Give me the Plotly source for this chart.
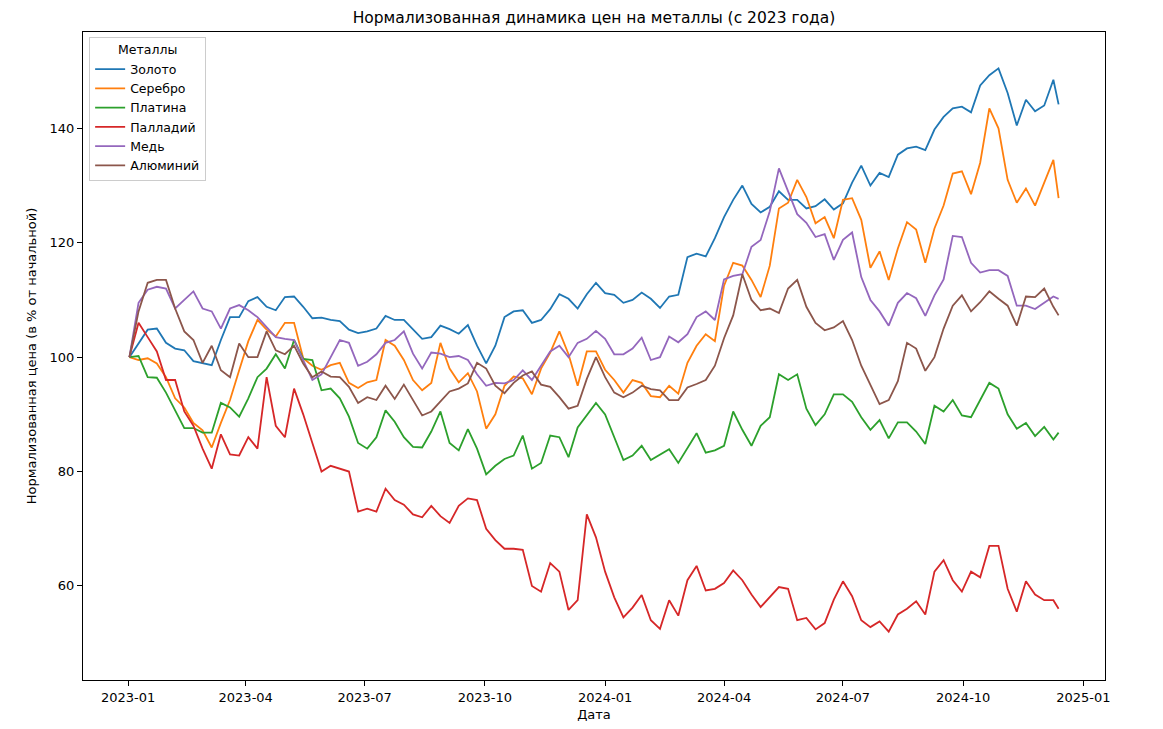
import pandas as pd
import plotly.graph_objects as go

# Weekly sample dates (Mondays from 2023-01-02) plus the final observation
dates = list(pd.date_range("2023-01-02", periods=102, freq="7D")) + [pd.Timestamp("2024-12-13")]

gold = [100, 102.5, 104.8, 105, 102.5, 101.5, 101.2, 99.3, 99, 98.6,
        103, 107, 107, 109.8, 110.5, 108.8, 108.2, 110.5, 110.6, 108.8,
        106.8, 106.9, 106.5, 106.3, 104.8, 104.2, 104.5, 105, 107.2, 106.5,
        106.5, 104.9, 103.2, 103.5, 105.5, 104.9, 104.1, 105.6, 102, 98.9,
        102, 107, 108, 108.2, 106, 106.5, 108.4, 111, 110.2, 108.5,
        111, 113, 111.2, 110.9, 109.5, 110, 111.3, 110.2, 108.6, 110.6,
        110.9, 117.5, 118.1, 117.6, 120.8, 124.5, 127.5, 130, 126.8, 125.3,
        126.3, 129, 127.5, 127.5, 126, 126.4, 127.6, 125.8, 126.9, 130.5,
        133.5, 130, 132.2, 131.5, 135.4, 136.5, 136.8, 136.2, 139.8, 142,
        143.5, 143.8, 142.8, 147.5, 149.3, 150.5, 146.2, 140.5, 145, 143,
        144, 148.5, 144.2]

silver = [100, 99.5, 99.8, 98.9, 96.5, 92.8, 91.2, 88.5, 87.2, 84.2,
          88.5, 92.5, 97.7, 102.8, 106.5, 104.8, 103.6, 106, 106, 99.8,
          98.5, 97.8, 98.6, 99, 95.5, 94.6, 95.6, 96, 103, 102,
          99.5, 96, 94.2, 95.5, 102.5, 98, 95.6, 97.2, 94, 87.5,
          90, 95, 96.6, 96.3, 93.5, 98, 100.8, 104.5, 100.5, 95,
          101, 101, 97.8, 96, 93.8, 96, 95.5, 93.2, 93, 95,
          93.6, 99, 102, 104, 102.8, 112.5, 116.5, 116, 113.5, 110.5,
          116, 126, 127, 131, 128, 123.4, 124.5, 120.8, 127.5, 127.8,
          124, 115.6, 118.5, 113.5, 119, 123.6, 122.3, 116.5, 122.5, 126.5,
          132.1, 132.5, 128.5, 134, 143.5, 140, 131, 127, 129.5, 126.5,
          130.5, 134.5, 127.8]

platinum = [100, 100.2, 96.5, 96.4, 93.8, 90.7, 87.6, 87.6, 86.8, 86.8,
            92, 91.2, 89.6, 92.8, 96.5, 98, 100.5, 98, 103, 99.7,
            99.5, 94.2, 94.5, 92.8, 89.6, 85, 84, 86, 90.7, 88.7,
            86, 84.3, 84.2, 87, 90.5, 85, 83.7, 87.4, 84, 79.5,
            81, 82.2, 82.8, 86.3, 80.5, 81.5, 86.3, 86, 82.5, 87.7,
            89.8, 92, 90, 86, 82, 82.8, 84.5, 82, 83, 83.9,
            81.5, 84, 86.7, 83.3, 83.7, 84.5, 90.5, 87.3, 84.5, 88,
            89.5, 97, 96, 97, 91, 88.1, 90, 93.5, 93.5, 92.2,
            89.5, 87.3, 89, 85.8, 88.6, 88.6, 87, 84.8, 91.5, 90.5,
            92.5, 89.8, 89.5, 92.5, 95.5, 94.5, 90, 87.5, 88.5, 86.2,
            87.8, 85.6, 86.8]

palladium = [100, 106, 103.5, 101, 96, 96, 90.5, 88, 84, 80.5,
             86.5, 83, 82.8, 86, 84, 96.5, 88, 86, 94.5, 90,
             85, 80, 81, 80.5, 80, 73, 73.5, 73, 77, 75,
             74.2, 72.5, 72, 74, 72.2, 71, 74, 75.3, 75, 70,
             68, 66.5, 66.5, 66.3, 60, 59, 64, 62.5, 55.8, 57.5,
             72.5, 68.5, 62.5, 58, 54.5, 56.2, 58.4, 54, 52.5, 57.5,
             54.8, 61, 63.5, 59.2, 59.5, 60.5, 62.7, 61, 58.5, 56.3,
             58, 59.8, 59.5, 54, 54.4, 52.4, 53.5, 57.6, 60.8, 58.2,
             54, 52.8, 53.8, 52, 55, 56, 57.3, 55, 62.5, 64.5,
             61, 59, 62.5, 61.5, 67, 67, 59.5, 55.5, 60.8, 58.5,
             57.5, 57.5, 56]

copper = [100, 109.5, 111.8, 112.3, 112, 108.5, 110, 111.5, 108.5, 108,
          105, 108.5, 109.1, 108.2, 107, 105.2, 103.5, 103.2, 103, 99.5,
          96, 97, 100, 103, 102.5, 98.5, 99.2, 100.5, 102.5, 103,
          104.5, 100.6, 98, 100.8, 100.6, 100, 100.2, 99.5, 97, 95,
          95.5, 95.4, 96, 97.7, 96, 98.5, 101, 102, 100, 102.5,
          103.2, 104.6, 103.2, 100.5, 100.5, 101.5, 103.4, 99.5, 100, 103.6,
          102.6, 104, 107, 108, 106.5, 113.6, 114.2, 114.5, 119.3, 120.5,
          125.5, 133, 129, 125, 123.5, 121, 121.5, 117, 120.5, 121.8,
          114, 110, 108, 105.5, 109.5, 111.2, 110.3, 107.2, 110.8, 113.6,
          121.2, 121, 116.5, 114.8, 115.2, 115.2, 114.2, 109, 109, 108.4,
          109.5, 110.6, 110.2]

aluminium = [100, 108, 113, 113.5, 113.5, 108.5, 104.5, 103, 99, 102,
             97.7, 96.5, 102.4, 100, 100, 104.5, 101.2, 100.5, 102, 98.9,
             96.5, 97.5, 96.6, 96.5, 94.8, 92, 93, 92.5, 95, 92.7,
             95.2, 92.5, 89.8, 90.5, 92.3, 94, 94.5, 95.4, 99, 98,
             95, 93.7, 95.5, 96.8, 97.5, 95.2, 94.8, 93, 91, 91.5,
             96.2, 100, 96.5, 93.8, 93, 93.8, 95, 94.4, 94.2, 92.5,
             92.5, 94.7, 95.3, 96, 98.5, 103.3, 107.3, 114.5, 110, 108.2,
             108.5, 107.7, 112, 113.5, 108.8, 106, 104.7, 105.2, 106.3, 103,
             98.5, 95, 91.8, 92.5, 95.8, 102.5, 101.5, 97.6, 100, 105,
             109, 110.8, 108, 109.6, 111.5, 110.2, 109, 105.5, 110.6, 110.5,
             112, 108.8, 107.3]

series_names = ["Золото", "Серебро", "Платина", "Палладий", "Медь", "Алюминий"]
series_values = [gold, silver, platinum, palladium, copper, aluminium]
colors = ["#1f77b4", "#ff7f0e", "#2ca02c", "#d62728", "#9467bd", "#8c564b"]

x_tick_vals = ["2023-01-01", "2023-04-01", "2023-07-01", "2023-10-01", "2024-01-01",
               "2024-04-01", "2024-07-01", "2024-10-01", "2025-01-01"]
x_tick_text = ["2023-01", "2023-04", "2023-07", "2023-10", "2024-01",
               "2024-04", "2024-07", "2024-10", "2025-01"]
y_tick_vals = [60, 80, 100, 120, 140]

fig = go.Figure()
for name, vals, col in zip(series_names, series_values, colors):
    fig.add_trace(go.Scatter(x=dates, y=vals, mode="lines", name=name,
                             line=dict(color=col, width=1.8)))

font_family = "DejaVu Sans, Arial, sans-serif"
fig.update_layout(
    width=1163, height=729,
    margin=dict(l=83, r=58, t=32, b=49, autoexpand=False),
    paper_bgcolor="white", plot_bgcolor="white",
    font=dict(family=font_family, size=13, color="black"),
    title=dict(text="Нормализованная динамика цен на металлы (с 2023 года)",
               x=0.5, xref="paper", xanchor="center", y=1 - 18 / 729, yanchor="middle",
               font=dict(size=15.5, color="black")),
    legend=dict(x=0.006, y=0.992, xanchor="left", yanchor="top",
                bgcolor="rgba(255,255,255,0.8)", bordercolor="#cccccc", borderwidth=1,
                title=dict(text="Металлы", side="top center", font=dict(size=12.5)),
                font=dict(size=12.5), tracegroupgap=0),
    showlegend=True,
)
fig.update_xaxes(
    range=["2022-11-27 12:00", "2025-01-17 12:00"],
    tickvals=x_tick_vals, ticktext=x_tick_text,
    showgrid=False, zeroline=False, automargin=False,
    showline=True, linecolor="black", linewidth=1, mirror=True,
    ticks="outside", ticklen=5, tickcolor="black",
    title=dict(text="Дата", font=dict(size=13), standoff=6),
)
fig.update_yaxes(
    range=[43.55, 156.85],
    tickvals=y_tick_vals,
    showgrid=False, zeroline=False, automargin=False,
    showline=True, linecolor="black", linewidth=1, mirror=True,
    ticks="outside", ticklen=5, tickcolor="black",
    title=dict(text="Нормализованная цена (в % от начальной)", font=dict(size=13), standoff=10),
)

fig.write_html("out.html",
               config={"displayModeBar": False},
               post_script="document.body.style.margin='0';document.body.style.overflow='hidden';")
